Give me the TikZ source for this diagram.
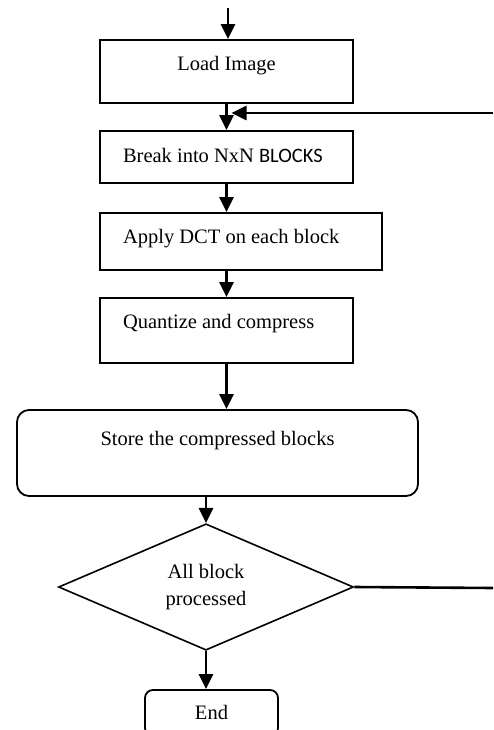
\documentclass[tikz,border=0pt]{standalone}
\usepackage{fontspec}
\setmainfont{Liberation Serif}
\newfontfamily\blockfont{Carlito}
\usetikzlibrary{shapes.geometric,arrows.meta}

\begin{document}
\begin{tikzpicture}[x=1pt, y=-1pt,
	font=\fontsize{20.5}{25}\selectfont,
	box/.style={draw, line width=1.8pt, rectangle, inner sep=0pt, text height=14pt},
	lbox/.style={box, align=flush left, text width=#1},
	rbox/.style={box, rounded corners=12pt},
	test/.style={draw, line width=1.6pt, diamond, inner sep=0pt, align=center,
		font=\fontsize{20.5}{27}\selectfont},
	arr/.style={line width=2.6pt, -{Triangle[length=15pt, width=14pt]}},
	line/.style={line width=2.6pt}]
	\useasboundingbox (0, 0) rectangle (493, 730);
	\clip (0, 0) rectangle (493, 730);

	\node[box, minimum width=253pt, minimum height=63pt, text depth=15pt] (load) at (226.5, 71.5) {Load Image};
	\node[lbox=207pt, minimum width=253pt, minimum height=52pt, text depth=2pt] (brk) at (226.5, 157) {Break into NxN {\blockfont BLOCKS}};
	\node[lbox=236pt, minimum width=282pt, minimum height=57pt, text depth=11pt] (dct) at (241, 241.5) {Apply DCT on each block};
	\node[lbox=207pt, minimum width=253pt, minimum height=65pt, text depth=19pt] (quant) at (226.5, 330.5) {Quantize and compress};
	\node[rbox, minimum width=401pt, minimum height=86pt, text depth=30pt] (store) at (217.5, 453) {Store the compressed blocks};
	\node[test, minimum width=295pt, minimum height=121pt] (dec) at (206, 587) {All block\\processed};
	\node[box, rounded corners=8pt, minimum width=133pt, minimum height=46pt] (endb) at (211.5, 713) {End};

	\coordinate (start) at (228, 8);
	\coordinate (fbtop) at (493, 113);
	\coordinate (fbbot) at (493, 588);

	\draw[arr] (start) -- (start |- load.north);
	\draw[arr] (load.south) -- (brk.north);
	\draw[arr] (brk.south) -- (brk.south |- dct.north);
	\draw[arr] (quant.north |- dct.south) -- (quant.north);
	\draw[arr] (quant.south) -- (quant.south |- store.north);
	\draw[arr] (dec.north |- store.south) -- (dec.north);
	\draw[arr] (dec.south) -- (dec.south |- endb.north);

	\draw[arr, shorten >=5pt] (fbtop) -- (fbtop -| load.south);
	\draw[line] (dec.east) -- (fbbot);

\end{tikzpicture}
\end{document}
